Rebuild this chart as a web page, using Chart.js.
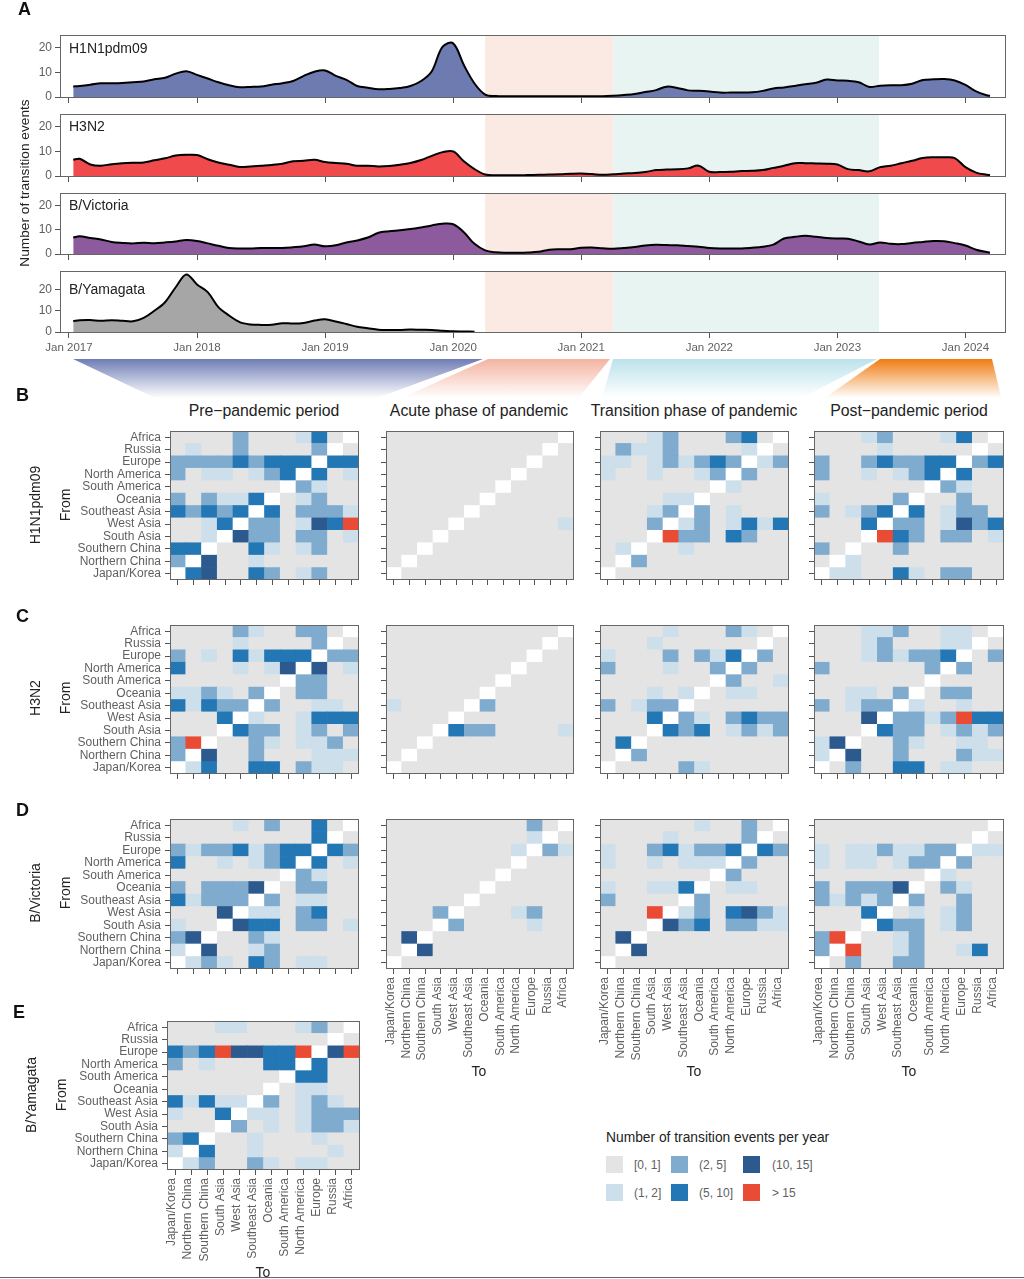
<!DOCTYPE html>
<html>
<head>
<meta charset="utf-8">
<script src="https://cdn.jsdelivr.net/npm/chart.js@4"></script>
<style>
  html, body { margin:0; padding:0; background:#fff; }
  body { position:relative; width:1024px; height:1279px; overflow:hidden; font-family:'Liberation Sans', Arial, sans-serif; }
  canvas { position:absolute; }
  #ribbons { position:absolute; left:0; top:355px; }
  .t { position:absolute; white-space:nowrap; color:#222; }
  .c { transform:translate(-50%,-50%); }
  .v { transform:translate(-50%,-50%) rotate(-90deg); }
  .letter { font-weight:bold; font-size:18px; color:#111; }
  .swatch { position:absolute; width:17px; height:17px; }
</style>
</head>
<body>
<svg id="ribbons" width="1024" height="55">
  <defs>
    <linearGradient id="gBlue" x1="0" y1="0" x2="0" y2="1"><stop offset="0" stop-color="#6f7db5"/><stop offset="0.85" stop-color="#fff"/></linearGradient>
    <linearGradient id="gRed" x1="0" y1="0" x2="0" y2="1"><stop offset="0" stop-color="#f4b3a0"/><stop offset="0.85" stop-color="#fff"/></linearGradient>
    <linearGradient id="gTeal" x1="0" y1="0" x2="0" y2="1"><stop offset="0" stop-color="#bce2ec"/><stop offset="0.85" stop-color="#fff"/></linearGradient>
    <linearGradient id="gOrange" x1="0" y1="0" x2="0" y2="1"><stop offset="0" stop-color="#f07c12"/><stop offset="0.85" stop-color="#fff"/></linearGradient>
  </defs>
  <polygon points="73,4 483,4 358,50 170,50" fill="url(#gBlue)"/>
  <polygon points="488,4 610,4 573,50 386,50" fill="url(#gRed)"/>
  <polygon points="613,4 877,4 788,50 600,50" fill="url(#gTeal)"/>
  <polygon points="880,4 992,4 1003,50 815,50" fill="url(#gOrange)"/>
</svg>
<script>
// x position of every reading, months since Jan 2017
const months = [0.4,1,2,3,4,5,6,7,8,9,10,11,12,13,14,15,16,17,18,19,20,21,22,23,24,25,26,27,28,29,30,
  31,32,33,34,35,36,37,38,39,40,41,42,43,44,45,46,47,48,49,50,51,52,53,54,55,56,57,58,59,60,
  61,62,63,64,65,66,67,68,69,70,71,72,73,74,75,76,77,78,79,80,81,82,83,84,85,86,86.3];

const h1n1Events = [4.3,
  4.5,5.0,5.6,5.6,5.7,6.0,6.3,7.2,7.8,9.5,
  10.5,9.0,7.5,6.0,4.8,4.0,4.1,4.3,5.0,5.6,
  6.5,8.6,10.3,10.8,8.6,7.0,4.5,3.8,3.2,3.3,
  3.7,4.5,6.5,10.5,20.4,21.8,13,5.5,1.0,0.4,
  0.3,0.3,0.3,0.3,0.3,0.3,0.3,0.3,0.3,0.3,
  0.5,0.8,1.2,2.0,2.8,4.2,3.7,2.7,2.5,2.2,
  1.8,1.8,1.8,1.9,2.5,3.5,3.9,4.5,5.2,5.8,
  7.1,6.7,6.6,6.0,4.1,4.6,4.8,4.8,5.4,6.9,
  7.2,7.3,6.7,4.9,2.3,0.7,0.5];
const h3n2Events = [6.6,
  7.0,4.7,4.2,4.8,5.2,5.4,5.5,6.4,7.2,8.3,
  8.6,8.5,6.8,5.5,4.6,3.7,3.9,4.2,4.5,5.0,
  6.0,6.2,6.6,5.7,5.3,5.0,4.2,4.2,3.9,4.1,
  4.6,5.3,6.5,8.2,9.7,10.0,6.0,2.8,0.6,0.3,
  0.3,0.3,0.4,0.5,0.6,0.7,0.9,1.0,0.8,0.5,
  0.7,1.0,1.2,1.6,2.4,2.6,2.7,3.1,4.2,1.7,
  1.6,1.7,2.0,2.1,2.4,3.3,4.2,5.2,5.2,5.1,
  5.0,4.7,2.8,2.4,1.9,3.6,4.2,5.2,6.2,7.3,
  7.6,7.6,7.3,3.6,1.4,0.5,0.4];
const victoriaEvents = [6.8,
  7.3,6.6,6.0,5.0,4.6,4.4,4.7,4.5,4.8,5.2,
  5.8,5.4,4.4,3.4,2.5,2.3,2.3,2.5,2.5,2.5,
  2.8,3.2,3.9,3.2,3.6,4.8,5.6,6.8,8.8,9.4,
  9.8,10.3,11.0,11.8,12.5,12.3,9.0,4.2,1.5,0.7,
  0.5,0.5,0.6,0.9,1.8,2.0,2.0,2.6,2.7,2.4,
  2.2,2.5,2.9,3.5,3.8,3.7,3.6,3.3,3.0,2.5,
  2.3,2.3,2.3,2.6,3.0,3.9,6.4,7.1,7.5,7.1,
  6.6,6.4,6.3,5.2,3.9,4.8,4.2,4.1,4.6,5.0,
  5.4,5.3,4.5,3.5,1.8,0.8,0.6];
const yamagataEvents = [5.2,
  5.6,5.7,5.3,5.6,5.3,5.1,6.7,10,14,21,
  27,22.3,18.7,11.7,7.8,4.7,3.6,3.4,3.5,4.2,
  4.0,4.3,5.4,6.0,5.0,3.8,2.5,1.8,1.1,1.0,
  1.0,1.2,1.1,1.0,0.7,0.4,0.3,0.2];

const janMonths = [0,12,24,36,48,60,72,84];
const janLabels = ['Jan 2017','Jan 2018','Jan 2019','Jan 2020','Jan 2021','Jan 2022','Jan 2023','Jan 2024'];
const yTicksArea = [0,10,20];
const acuteSpan = [39,51];
const transitionSpan = [51,75.9];

const fromLabels = ['Africa','Russia','Europe','North America','South America','Oceania','Southeast Asia','West Asia','South Asia','Southern China','Northern China','Japan/Korea'];
const toLabels = ['Japan/Korea','Northern China','Southern China','South Asia','West Asia','Southeast Asia','Oceania','South America','North America','Europe','Russia','Africa'];

// rows follow fromLabels, columns follow toLabels. 0..5 = legend bins, w = same region
const h1n1Pre = ['00002000130w','0100200002w0','222232333w33','20110123w301','0000000w2100','202113w01200','32323w302221','0013w2201435','001w42202201','33w003101200','2w4001000000','w34003201200'];
const h1n1Acute = ['00000000000w','0000000000w0','000000000w00','00000000w000','0000000w0000','000000w00000','00000w000000','0000w0000001','000w00000000','00w000000000','0w0000000000','w00000000000'];
const h1n1Transition = ['00012000230w','0211200001w0','110121232w12','10010012w200','0000000w1000','000011w00000','00012w201000','0002w1201313','000w52203200','01w001000000','0w2000000000','w00000000000'];
const h1n1Post = ['00012000130w','0000100000w0','200232233w23','20010123w300','0000000w2100','100002w00200','20123w301220','0003w2201423','000w53202201','20w002000000','0w1000000000','w11003102200'];

const h3n2Pre = ['00002100220w','0000100002w0','201031333w22','30001014w401','0000000w2200','112102w02200','31322w200110','0003w1001333','000w32201202','25w002101120','2w4002000111','w13003302110'];
const h3n2Acute = ['00000000000w','0000000000w0','000000000w00','00000000w000','0000000w0000','000000w00000','10000w200000','0000w0000000','000w32200001','00w000000000','0w0000000000','w00000000000'];
const h3n2Transition = ['00001000210w','0001000000w0','100020213w20','20001002w200','0000000w2001','000101w01100','20122w000000','0003w2102322','000w32301212','03w000000000','0w2000000000','w00002100000'];
const h3n2Post = ['00011200110w','0001200011w0','000121223w02','20000002w200','0000000w0000','001102w02200','20122w100100','0004w2212533','000w32201212','14w002100110','1w4002000211','w02003301100'];

const victoriaPre = ['00001020030w','0000000003w0','212231233w32','30010123w301','0000000w2100','202224w02200','31222w201100','0004w1102300','100w43302201','24w002100000','1w4001200000','w12103201100'];
const victoriaAcute = ['00000000020w','0000000001w0','000000001w21','00000000w000','0000000w0000','000000w00000','00000w000000','0002w0001200','000w20000100','04w000000000','0w4000000000','w00000000000'];
const victoriaTransition = ['00000010020w','0000100002w0','100231223w32','10010111w200','0000000w2000','100113w01100','20000w200000','0005w1203421','000w42302211','04w000000000','0w4000000000','w00000000000'];
const victoriaPost = ['00000000000w','0000000000w0','101121122w11','10110122w200','0000000w1000','202224w02100','21212w200200','0003w0101200','000w32201200','25w001200000','2w5001200130','w02002200000'];

const yamagataPre = ['00011000120w','0000000000w0','323544335w45','20100033w300','0000000w3300','000000w01100','31311w201210','1003w1101222','000w20101221','23w001000100','1w3001000010','w12002101100'];

const legendLabels = ['[0, 1]','(1, 2]','(2, 5]','(5, 10]','(10, 15]','> 15'];

const BIN_COLORS = { '0':'#e4e4e4', '1':'#cddfea', '2':'#7fabce', '3':'#2377b4', '4':'#2c5a8f', '5':'#e94b35', 'w':'#ffffff' };
const TICK_COLOR = '#555';
const LABEL_COLOR = '#5f5f5f';
const FONT = "'Liberation Sans', Arial, sans-serif";

Chart.defaults.font.family = FONT;
Chart.defaults.animation = false;

const panelBorder = {
  id: 'panelBorder',
  afterDraw(chart) {
    const a = chart.chartArea, ctx = chart.ctx;
    ctx.save();
    ctx.strokeStyle = '#666';
    ctx.lineWidth = 1;
    ctx.strokeRect(a.left + 0.5, a.top + 0.5, a.right - a.left - 1, a.bottom - a.top - 1);
    ctx.restore();
  }
};

const periodShade = {
  id: 'periodShade',
  beforeDatasetsDraw(chart) {
    const a = chart.chartArea, ctx = chart.ctx, x = chart.scales.x;
    ctx.save();
    ctx.fillStyle = '#fbeae4';
    ctx.fillRect(x.getPixelForValue(acuteSpan[0]), a.top, x.getPixelForValue(acuteSpan[1]) - x.getPixelForValue(acuteSpan[0]), a.bottom - a.top);
    ctx.fillStyle = '#e8f4f1';
    ctx.fillRect(x.getPixelForValue(transitionSpan[0]), a.top, x.getPixelForValue(transitionSpan[1]) - x.getPixelForValue(transitionSpan[0]), a.bottom - a.top);
    ctx.restore();
  }
};

// fixed axis size, and no label overhang so the plot box lands where it is told
function fixAxis(s, size) {
  if (s.isHorizontal()) s.height = size; else s.width = size;
  s.paddingLeft = s.paddingRight = s.paddingTop = s.paddingBottom = 0;
}

function addCanvas(box, m) {
  const cv = document.createElement('canvas');
  const w = box.x1 - box.x0 + m.l + m.r, h = box.y1 - box.y0 + m.t + m.b;
  cv.width = w; cv.height = h;
  cv.style.left = (box.x0 - m.l) + 'px';
  cv.style.top = (box.y0 - m.t) + 'px';
  cv.style.width = w + 'px';
  cv.style.height = h + 'px';
  document.body.appendChild(cv);
  return cv;
}

function makeAreaChart(box, values, color, yMax, showDates) {
  const m = { l:40, r:1, t:1, b:showDates ? 26 : 7 };
  new Chart(addCanvas(box, m), {
    type: 'line',
    data: { datasets: [{
      data: values.map((v, i) => ({ x:months[i], y:v })),
      borderColor:'#000', borderWidth:2, backgroundColor:color, fill:'origin',
      pointRadius:0, tension:0.35
    }] },
    options: {
      responsive:false, maintainAspectRatio:false,
      layout: { padding:{ top:m.t, right:m.r, bottom:0, left:0 } },
      plugins: { legend:{display:false}, tooltip:{enabled:false} },
      scales: {
        x: {
          type:'linear', min:-0.84, max:87.8,
          afterBuildTicks: s => { s.ticks = janMonths.map(v => ({ value:v })); },
          afterFit: s => fixAxis(s, m.b),
          grid: { drawOnChartArea:false, tickLength:5, tickColor:TICK_COLOR },
          border: { display:false },
          ticks: { display:showDates, autoSkip:false, maxRotation:0, padding:3, color:LABEL_COLOR, font:{size:11.5}, callback:(v, i) => janLabels[i] }
        },
        y: {
          type:'linear', min:-0.4, max:yMax,
          afterBuildTicks: s => { s.ticks = yTicksArea.map(v => ({ value:v })); },
          afterFit: s => fixAxis(s, m.l),
          grid: { drawOnChartArea:false, tickLength:5, tickColor:TICK_COLOR },
          border: { display:false },
          ticks: { padding:3, color:LABEL_COLOR, font:{size:12} }
        }
      }
    },
    plugins: [periodShade, panelBorder]
  });
}

function makeHeatmap(box, rows, showFrom, showTo) {
  const m = { l:showFrom ? 125 : 8, r:1, t:1, b:showTo ? 95 : 8 };
  // bottom row first, the bars stack upward
  const datasets = rows.slice().reverse().map(row => ({
    data: toLabels.map(() => 1),
    backgroundColor: row.split('').map(k => BIN_COLORS[k]),
    borderWidth:0, barPercentage:1, categoryPercentage:1
  }));
  const rowLabels = fromLabels.slice().reverse();
  new Chart(addCanvas(box, m), {
    type: 'bar',
    data: { labels:toLabels, datasets },
    options: {
      responsive:false, maintainAspectRatio:false,
      layout: { padding:{ top:m.t, right:m.r, bottom:0, left:0 } },
      plugins: { legend:{display:false}, tooltip:{enabled:false} },
      scales: {
        x: {
          stacked:true,
          afterFit: s => fixAxis(s, m.b),
          grid: { offset:false, drawOnChartArea:false, tickLength:5, tickColor:TICK_COLOR },
          border: { display:false },
          ticks: { display:showTo, autoSkip:false, minRotation:90, maxRotation:90, padding:3, labelOffset:-3, color:LABEL_COLOR, font:{size:12} }
        },
        y: {
          stacked:true, min:0, max:rowLabels.length,
          afterBuildTicks: s => { s.ticks = rowLabels.map((_, i) => ({ value:i + 0.5 })); },
          afterFit: s => fixAxis(s, m.l),
          grid: { drawOnChartArea:false, tickLength:5, tickColor:TICK_COLOR },
          border: { display:false },
          ticks: { display:showFrom, autoSkip:false, padding:4, color:LABEL_COLOR, font:{size:12}, callback:(v, i) => rowLabels[i] }
        }
      }
    },
    plugins: [panelBorder]
  });
}

function addText(str, x, y, cls, size, color) {
  const d = document.createElement('div');
  d.className = 't ' + cls;
  d.textContent = str;
  d.style.left = x + 'px';
  d.style.top = y + 'px';
  if (size) d.style.fontSize = size + 'px';
  if (color) d.style.color = color;
  document.body.appendChild(d);
}

// panel A
makeAreaChart({x0:60,x1:1006,y0:35,y1:98}, h1n1Events, '#6e7bb1', 25.2, false);
makeAreaChart({x0:60,x1:1006,y0:114,y1:177}, h3n2Events, '#f04a4c', 25.2, false);
makeAreaChart({x0:60,x1:1006,y0:193,y1:255}, victoriaEvents, '#8d5a9e', 25.2, false);
makeAreaChart({x0:60,x1:1006,y0:271,y1:333}, yamagataEvents, '#a6a6a6', 28.6, true);

addText('H1N1pdm09', 69, 40, '', 14);
addText('H3N2', 69, 118, '', 14);
addText('B/Victoria', 69, 197, '', 14);
addText('B/Yamagata', 69, 281, '', 14);
addText('Number of transition events', 24, 183, 'v', 13.7);

// panels B-E
const cols = [[170,359],[386,574],[600,789],[814,1004]];
const rowsY = [[431,580],[625,774],[819,969]];
const grids = [
  [h1n1Pre, h1n1Acute, h1n1Transition, h1n1Post],
  [h3n2Pre, h3n2Acute, h3n2Transition, h3n2Post],
  [victoriaPre, victoriaAcute, victoriaTransition, victoriaPost]
];
grids.forEach((g, r) => g.forEach((rows, c) => {
  makeHeatmap({ x0:cols[c][0], x1:cols[c][1], y0:rowsY[r][0], y1:rowsY[r][1] }, rows, c === 0, r === 2 && c > 0);
}));
makeHeatmap({x0:167,x1:360,y0:1021,y1:1170}, yamagataPre, true, true);

addText('Pre\u2212pandemic period', 264, 411, 'c', 15.8);
addText('Acute phase of pandemic', 479, 411, 'c', 15.8);
addText('Transition phase of pandemic', 694, 411, 'c', 15.8);
addText('Post\u2212pandemic period', 909, 411, 'c', 15.8);

addText('A', 18, -1, 'letter');
addText('B', 16, 385, 'letter');
addText('C', 16, 606, 'letter');
addText('D', 16, 800, 'letter');
addText('E', 13, 1002, 'letter');

addText('H1N1pdm09', 35, 505, 'v', 14);
addText('From', 65, 505, 'v', 14);
addText('H3N2', 35, 698, 'v', 14);
addText('From', 65, 698, 'v', 14);
addText('B/Victoria', 35, 893, 'v', 14);
addText('From', 65, 893, 'v', 14);
addText('B/Yamagata', 31, 1095, 'v', 14);
addText('From', 61, 1095, 'v', 14);
addText('To', 479, 1071, 'c', 14);
addText('To', 694, 1071, 'c', 14);
addText('To', 909, 1071, 'c', 14);
addText('To', 263, 1272, 'c', 14);

// legend
addText('Number of transition events per year', 606, 1130, '', 13.8);
const legendX = [606, 671, 743], legendLabelX = [634, 699, 772], legendY = [1156, 1184];
legendLabels.forEach((lab, i) => {
  const col = Math.floor(i / 2), row = i % 2;
  const s = document.createElement('div');
  s.className = 'swatch';
  s.style.left = legendX[col] + 'px';
  s.style.top = legendY[row] + 'px';
  s.style.background = BIN_COLORS[String(i)];
  document.body.appendChild(s);
  addText(lab, legendLabelX[col], legendY[row] + 2, '', 12, LABEL_COLOR);
});

const base = document.createElement('div');
base.style.cssText = 'position:absolute;left:0;top:1277px;width:1024px;height:1px;background:#666';
document.body.appendChild(base);
</script>
</body>
</html>
